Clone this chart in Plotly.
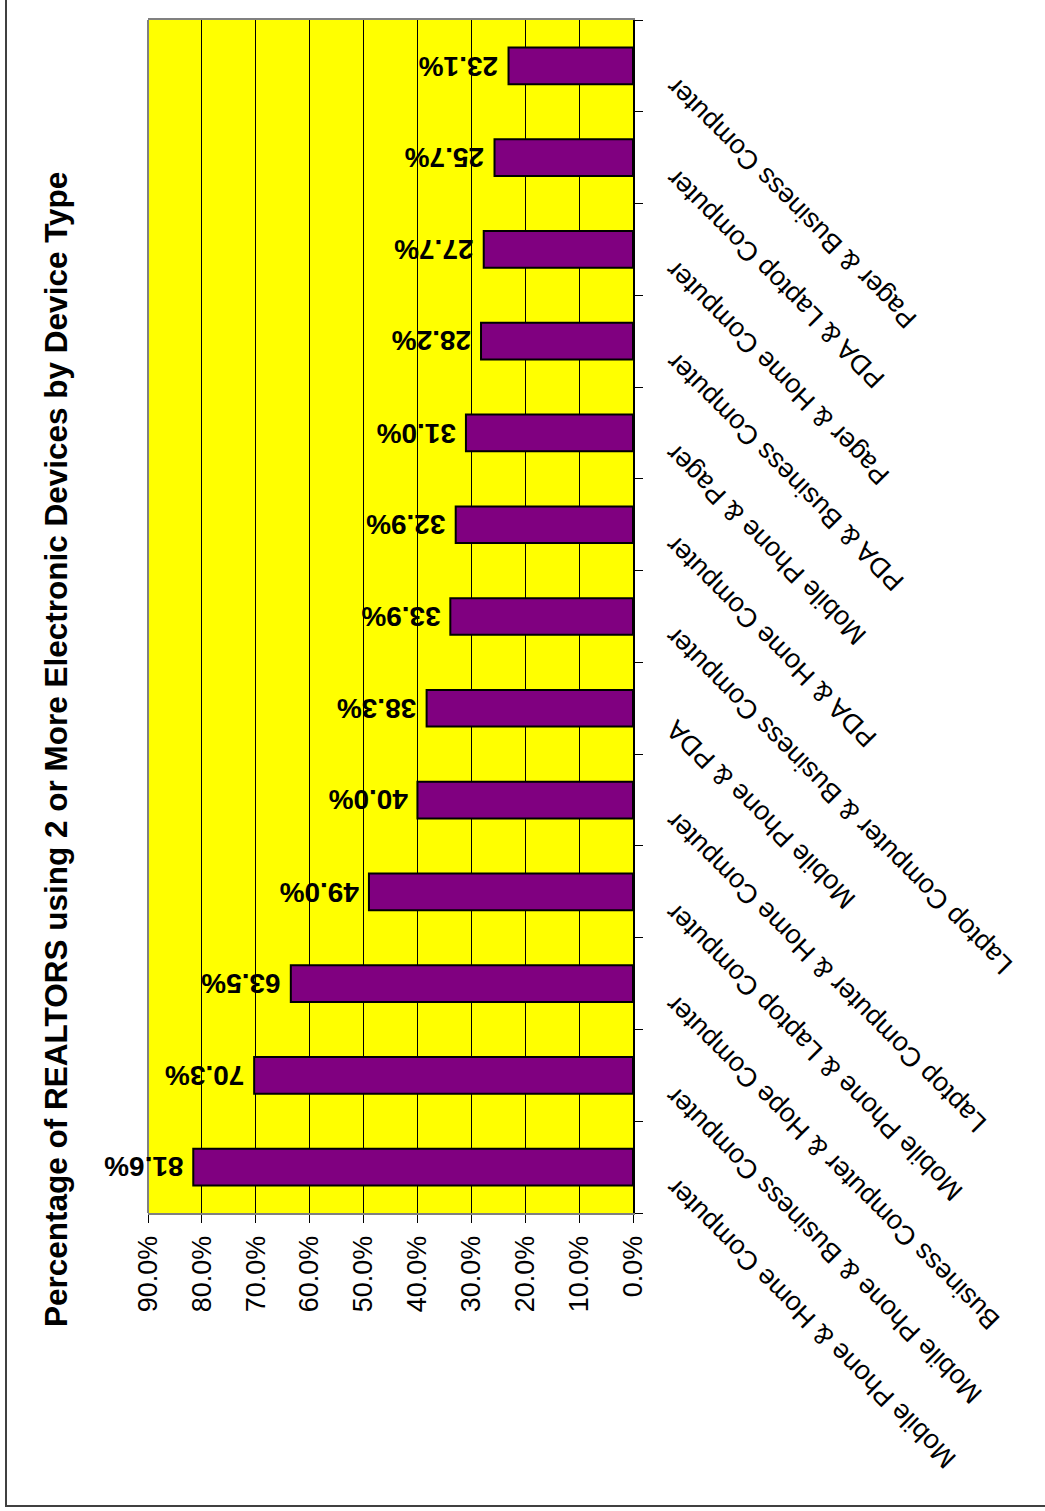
import plotly.graph_objects as go

# Device combinations, listed bottom to top
categories = [
    "Mobile Phone & Home Computer",
    "Mobile Phone & Business Computer",
    "Business Computer & Hope Computer",
    "Mobile Phone & Laptop Computer",
    "Laptop Computer & Home Computer",
    "Mobile Phone & PDA",
    "Laptop Computer & Business Computer",
    "PDA & Home Computer",
    "Mobile Phone & Pager",
    "PDA & Business Computer",
    "Pager & Home Computer",
    "PDA & Laptop Computer",
    "Pager & Business Computer",
]
percent_values = [81.6, 70.3, 63.5, 49.0, 40.0, 38.3, 33.9, 32.9, 31.0, 28.2, 27.7, 25.7, 23.1]
value_ticks = [0, 10, 20, 30, 40, 50, 60, 70, 80, 90]
title_text = "Percentage of REALTORS using 2 or More Electronic Devices by Device Type"

W, H = 1045, 1511
PL, PR, PT, PB = 148, 633, 20, 1213  # plot area in pixels
FONT = "Liberation Sans, Arial, sans-serif"


def px_to_paper_x(px):
    return (px - PL) / (PR - PL)


def px_to_paper_y(py):
    return (PB - py) / (PB - PT)


fig = go.Figure()
fig.add_trace(go.Bar(
    x=percent_values,
    y=categories,
    orientation="h",
    marker=dict(color="#800080", line=dict(color="black", width=2)),
    hoverinfo="skip",
))

annotations = []
# value labels, upside down, at the end of each bar
for cat, v in zip(categories, percent_values):
    annotations.append(dict(
        x=v, y=cat, xref="x", yref="y",
        text=f"{v:.1f}%", showarrow=False, textangle=180,
        xanchor="right", yanchor="middle", xshift=-8,
        font=dict(family=FONT, size=28, color="black", weight="bold"),
    ))
# slanted category labels on the right of the axis
for cat in categories:
    annotations.append(dict(
        x=px_to_paper_x(657), y=cat, xref="paper", yref="y",
        text=cat, showarrow=False, textangle=-135,
        xanchor="left", yanchor="top", yshift=-3,
        font=dict(family=FONT, size=27, color="black"),
    ))
# title, reading upward on the left
annotations.append(dict(
    x=px_to_paper_x(56), y=px_to_paper_y(750), xref="paper", yref="paper",
    text=title_text, showarrow=False, textangle=-90,
    xanchor="center", yanchor="middle",
    font=dict(family=FONT, size=31.5, color="black", weight="bold"),
))

shapes = [
    # outer frame
    dict(type="rect", xref="paper", yref="paper",
         x0=px_to_paper_x(6), x1=px_to_paper_x(1060),
         y0=px_to_paper_y(1506), y1=px_to_paper_y(-10),
         line=dict(color="#404040", width=2), fillcolor="rgba(0,0,0,0)", layer="above"),
    # left edge of the plot area
    dict(type="line", xref="paper", yref="paper", x0=0, x1=0, y0=0, y1=1,
         line=dict(color="#808080", width=2), layer="above"),
]

fig.update_layout(
    width=W, height=H,
    margin=dict(l=PL, r=W - PR, t=PT, b=H - PB),
    paper_bgcolor="white",
    plot_bgcolor="#FFFF00",
    showlegend=False,
    bargap=0.6,
    annotations=annotations,
    shapes=shapes,
    font=dict(family=FONT, color="black"),
)
fig.update_xaxes(
    range=[90, 0],
    tickvals=value_ticks,
    ticktext=[f"{t:.1f}%" for t in value_ticks],
    tickangle=-90,
    tickfont=dict(family=FONT, size=27, color="black"),
    ticks="outside", ticklen=8, tickcolor="black", tickwidth=1,
    ticklabelstandoff=2,
    showgrid=True, gridcolor="black", gridwidth=1,
    showline=True, linecolor="#808080", linewidth=2, mirror=True,
    zeroline=False,
)
fig.update_yaxes(
    side="right",
    range=[-0.5, len(categories) - 0.5],
    showticklabels=False,
    ticks="outside", ticklen=8, tickcolor="black", tickwidth=1,
    tickson="boundaries",
    showgrid=False,
    showline=True, linecolor="black", linewidth=2,
    zeroline=False,
)

fig.write_html("out.html")
